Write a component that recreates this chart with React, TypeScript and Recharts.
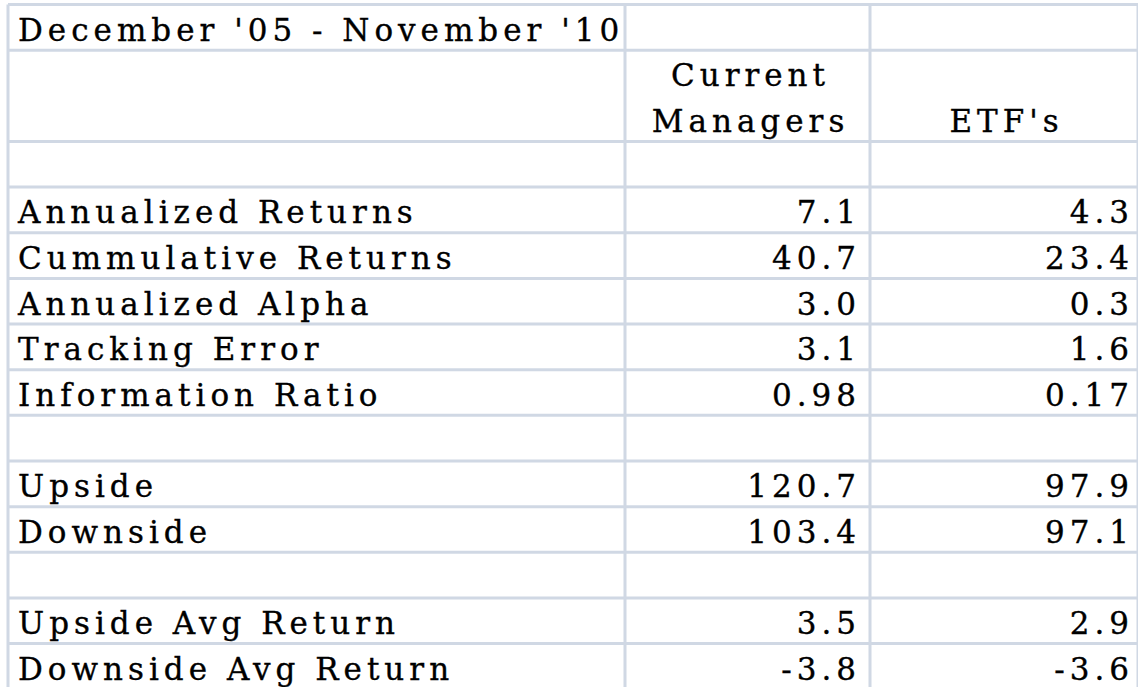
import { ComposedChart, Scatter, XAxis, YAxis, CartesianGrid } from 'recharts';

// table content
const TITLE = "December '05 - November '10";
const HEADER_CURRENT = ['Current', 'Managers'];
const HEADER_ETF = "ETF's";
const METRICS = [
  'Annualized Returns',
  'Cummulative Returns',
  'Annualized Alpha',
  'Tracking Error',
  'Information Ratio',
  '',
  'Upside',
  'Downside',
  '',
  'Upside Avg Return',
  'Downside Avg Return',
];
const CURRENT_MANAGERS = ['7.1', '40.7', '3.0', '3.1', '0.98', '', '120.7', '103.4', '', '3.5', '-3.8'];
const ETFS = ['4.3', '23.4', '0.3', '1.6', '0.17', '', '97.9', '97.1', '', '2.9', '-3.6'];

// layout
const WIDTH = 1138;
const LEFT = 8;
const TOP = 4.5;
const ROW_H = 45.65;
const ROWS = 15;
const BODY_START = 4;
const COL_EDGES = [9.5, 625, 870];
const COL_END = 1143;
const PAD_L = 8.5;
const PAD_R = 9;
const ROW_EDGES = [0, 1, ...Array.from({ length: ROWS - 2 }, (_, i) => i + 3)];

const GRID = '#d0d8e4';

type Cell = { x: number; y: number; text: string };

const leftCells: Cell[] = [
  { x: COL_EDGES[0] + PAD_L, y: 0.5, text: TITLE },
  ...METRICS.map((m, i) => ({ x: COL_EDGES[0] + PAD_L, y: BODY_START + i + 0.5, text: m })),
].filter((c) => c.text);

const rightCells: Cell[] = [
  ...CURRENT_MANAGERS.map((v, i) => ({ x: COL_EDGES[2] - PAD_R, y: BODY_START + i + 0.5, text: v })),
  ...ETFS.map((v, i) => ({ x: COL_END - PAD_R, y: BODY_START + i + 0.5, text: v })),
].filter((c) => c.text);

const midCells: Cell[] = [
  ...HEADER_CURRENT.map((h, i) => ({ x: (COL_EDGES[1] + COL_EDGES[2]) / 2 + 3, y: 1 + i + 0.5, text: h })),
  { x: (COL_EDGES[2] + COL_END) / 2, y: 2.5, text: HEADER_ETF },
];

const cellText = (anchor: 'start' | 'middle' | 'end') => (props: any) => (
  <text
    x={props.cx}
    y={props.cy + 13.5}
    textAnchor={anchor}
    fontFamily="DejaVu Serif"
    fontSize={31}
    letterSpacing={5}
    fill="#000"
    stroke="#000"
    strokeWidth={0.35}
  >
    {props.payload.text}
  </text>
);

export default function App() {
  return (
    <div
      style={{
        position: 'absolute',
        left: 0,
        top: 0,
        width: WIDTH,
        height: 687,
        overflow: 'hidden',
        background: '#fff',
      }}
    >
      <ComposedChart
        width={WIDTH}
        height={TOP + ROWS * ROW_H}
        margin={{ top: TOP, right: 0, bottom: 0, left: LEFT }}
      >
        <CartesianGrid stroke={GRID} strokeWidth={3} />
        <XAxis type="number" dataKey="x" domain={[LEFT, WIDTH]} ticks={COL_EDGES} hide allowDataOverflow />
        <YAxis type="number" dataKey="y" domain={[0, ROWS]} ticks={ROW_EDGES} reversed hide allowDataOverflow />
        <Scatter data={leftCells} shape={cellText('start')} isAnimationActive={false} />
        <Scatter data={midCells} shape={cellText('middle')} isAnimationActive={false} />
        <Scatter data={rightCells} shape={cellText('end')} isAnimationActive={false} />
      </ComposedChart>
    </div>
  );
}
